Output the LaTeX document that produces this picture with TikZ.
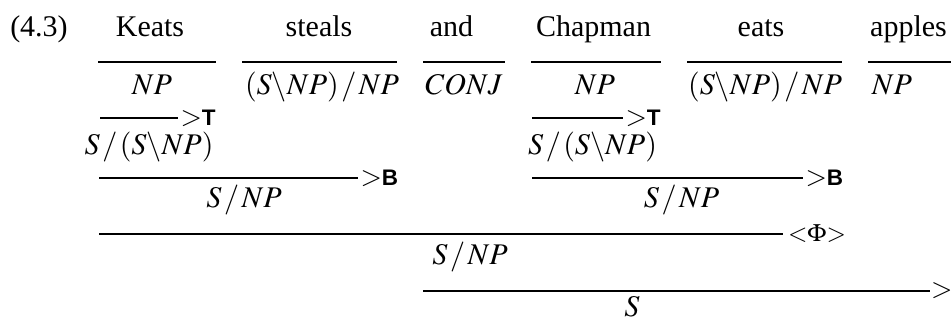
\documentclass[tikz,border=0pt]{standalone}
\usepackage{mathptmx}
\usepackage[no-math]{fontspec}
\setmainfont{Liberation Serif}
\setsansfont{Liberation Sans}
\usetikzlibrary{positioning}
% combinator tag beside a rule
\newcommand{\combtag}[1]{\textnormal{\sffamily\bfseries\fontsize{9}{10}\selectfont #1}}
% forward slash with a little air
\newcommand{\fsl}{\mkern1.5mu/\mkern1.5mu}

\begin{document}
\begin{tikzpicture}[
    x=0.4pt, y=-0.4pt,
    every node/.style={inner sep=0pt},
    word/.style={anchor=base, font=\fontsize{12}{14}\selectfont},
    cat/.style={anchor=base, font=\fontsize{12}{14}\selectfont},
    rule/.style={line width=0.8pt},
    rlabel/.style={anchor=west, xshift=0.6pt, font=\fontsize{11}{13}\selectfont}
]
\useasboundingbox (0,0) rectangle (951,320);

% the sentence
\node[word] (exnum) at (39,36) {(4.3)};
\node[word] (keats) at (150,36) {Keats};
\node[word] (steals) at (319,36) {steals};
\node[word] (and) at (451.5,36) {and};
\node[word] (chapman) at (593.5,36) {Chapman};
\node[word] (eats) at (761,36) {eats};
\node[word] (apples) at (908.5,36) {apples};

% lexical categories
\draw[rule] (98,62) -- (216,62);
\draw[rule] (242,62) -- (397,62);
\draw[rule] (423,62) -- (505,62);
\draw[rule] (531,62) -- (661,62);
\draw[rule] (687,62) -- (842,62);
\draw[rule] (868,62) -- (951,62);
\node[cat] (np1) at (152,94) {$NP$};
\node[cat] (tv1) at (322,94) {$(S\backslash NP)\fsl NP$};
\node[cat] (conj) at (464,94) {$CONJ$};
\node[cat] (np2) at (595,94) {$NP$};
\node[cat] (tv2) at (765,94) {$(S\backslash NP)\fsl NP$};
\node[cat] (np3) at (892,94) {$NP$};

% type raising
\draw[rule] (100,118) -- (178,118) node[rlabel] {$>$\combtag{T}};
\draw[rule] (532,118) -- (623,118) node[rlabel] {$>$\combtag{T}};
\node[cat] (tr1) at (149,154) {$S\fsl(S\backslash NP)$};
\node[cat] (tr2) at (592.5,154) {$S\fsl(S\backslash NP)$};

% composition
\draw[rule] (99,178) -- (358,178) node[rlabel] {$>$\combtag{B}};
\draw[rule] (532,178) -- (803,178) node[rlabel] {$>$\combtag{B}};
\node[cat] (comp1) at (244,207) {$S\fsl NP$};
\node[cat] (comp2) at (681.5,207) {$S\fsl NP$};

% coordination
\draw[rule] (99,234) -- (783,234) node[rlabel, xshift=1pt, font=\fontsize{10}{12}\selectfont] {${<}\Phi{>}$};
\node[cat] (coord) at (470,264) {$S\fsl NP$};

% application
\draw[rule] (423,291) -- (930,291) node[rlabel, xshift=-0.6pt] {$>$};
\node[cat] (sent) at (632,316) {$S$};
\end{tikzpicture}
\end{document}
